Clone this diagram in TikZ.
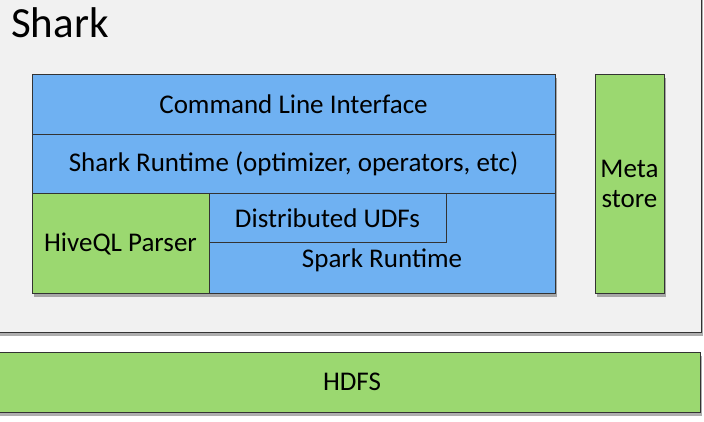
\documentclass[tikz,border=0pt]{standalone}
\usepackage{fontspec}
\setmainfont{Carlito}
\usetikzlibrary{shadows,calc}
\definecolor{blk}{HTML}{6FB1F2}
\definecolor{grn}{HTML}{9BD870}
\definecolor{outer}{HTML}{F1F1F1}
\tikzset{
  box/.style={draw=black!80, line width=0.9pt},
  bluebox/.style={box, fill=blk},
  greenbox/.style={box, fill=grn},
  shad/.style={drop shadow={shadow xshift=2pt, shadow yshift=-4pt, opacity=0.45, fill=black!70}},
  lbl/.style={font=\fontsize{27}{30}\selectfont, text=black, inner sep=0pt}
}
\begin{document}
\begin{tikzpicture}[x=1pt,y=-1pt]
\useasboundingbox (0,0) rectangle (704,422);
\fill[white] (0,0) rectangle (704,422);
% outer Shark frame
\draw[box, fill=outer, shad] (-5,-5) rectangle (701,332);
\node[lbl, font=\fontsize{43}{46}\selectfont, anchor=base west] (title) at (11,38) {Shark};
% main stack
\draw[bluebox, shad] (32,74) rectangle (555,293);
\draw[bluebox] (32,74) rectangle (555,134);
\node[lbl] (cli) at (293.5,104) {Command Line Interface};
\draw[bluebox] (32,134) rectangle (555,193);
\node[lbl] (rt) at (293.5,164) {Shark Runtime (optimizer, operators, etc)};
\draw[greenbox] (32,193) rectangle (209,293);
\node[lbl] (hive) at (120.5,244) {HiveQL Parser};
\draw[bluebox] (209,193) rectangle (555,293);
\draw[box] (209,193) rectangle (446,242);
\node[lbl] (udf) at (327.5,218) {Distributed UDFs};
\node[lbl] (spark) at (382,260) {Spark Runtime};
% metastore
\draw[greenbox, shad] (595,74) rectangle (664,293);
\node[lbl, align=center] (meta) at (629.5,184) {Meta\\store};
% HDFS
\draw[greenbox, shad] (-5,352) rectangle (700,412);
\node[lbl] (hdfs) at (352,382) {HDFS};
\end{tikzpicture}
\end{document}
